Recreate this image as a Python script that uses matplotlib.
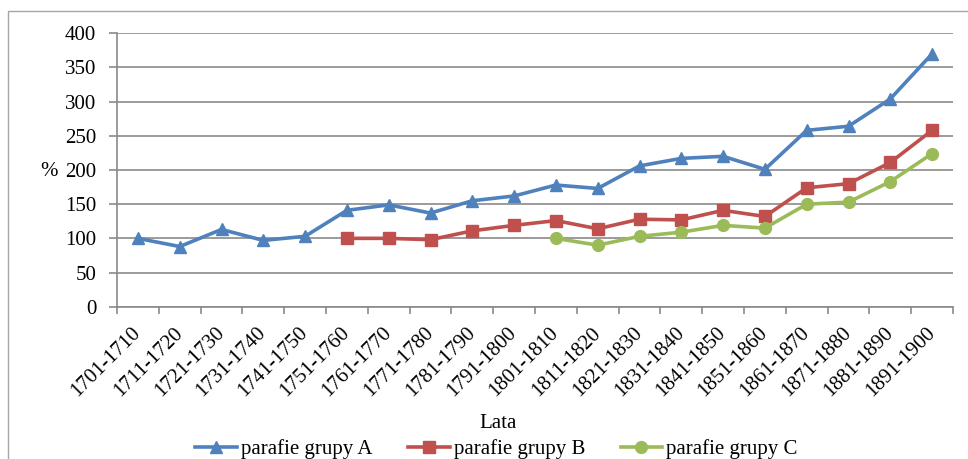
import matplotlib
matplotlib.use("Agg")
import matplotlib.pyplot as plt
import numpy as np
from matplotlib.patches import Rectangle

categories = ["1701-1710", "1711-1720", "1721-1730", "1731-1740", "1741-1750",
              "1751-1760", "1761-1770", "1771-1780", "1781-1790", "1791-1800",
              "1801-1810", "1811-1820", "1821-1830", "1831-1840", "1841-1850",
              "1851-1860", "1861-1870", "1871-1880", "1881-1890", "1891-1900"]
grupa_a = [100, 88, 113, 97, 103, 141, 149, 137, 155, 162,
           178, 173, 206, 217, 220, 201, 258, 264, 304, 370]
grupa_b = [None, None, None, None, None, 100, 100, 98, 111, 119,
           126, 114, 128, 127, 141, 132, 174, 180, 211, 258]
grupa_c = [None, None, None, None, None, None, None, None, None, None,
           100, 90, 103, 109, 119, 115, 150, 153, 183, 224]
series_names = ["parafie grupy A", "parafie grupy B", "parafie grupy C"]
y_ticks = [0, 50, 100, 150, 200, 250, 300, 350, 400]

plt.rcParams['font.family'] = ['Liberation Serif', 'DejaVu Serif']
FS = 15

W, H = 968, 459
fig = plt.figure(figsize=(W / 100, H / 100), dpi=100)
fig.patch.set_facecolor('white')

# outer chart frame (extends past right/bottom edges)
fig.patches.append(Rectangle((8 / W, -0.1), 1.2, 1 - 11 / H + 0.1,
                             transform=fig.transFigure, fill=False,
                             edgecolor='#a6a6a6', linewidth=1.0))

ax = fig.add_axes([117 / W, 1 - 306.7 / H, (953 - 117) / W, (306.7 - 33.3) / H])

x = np.arange(len(categories))

def arr(v):
    return np.array([np.nan if a is None else a for a in v], dtype=float)

colors = ['#4F81BD', '#C0504D', '#9BBB59']
markers = ['^', 's', 'o']
for vals, name, c, m in zip([grupa_a, grupa_b, grupa_c], series_names, colors, markers):
    ax.plot(x, arr(vals), color=c, linewidth=2.6, marker=m, markersize=8.5,
            markeredgecolor=c, markerfacecolor=c, label=name, zorder=3)

ax.set_xlim(-0.5, len(categories) - 0.5)
ax.set_ylim(0, 400)
ax.set_yticks(y_ticks)
ax.yaxis.grid(True, color='#8a8a8a', linewidth=1.2)
ax.set_axisbelow(True)

ax.set_xticks(np.arange(len(categories) + 1) - 0.5)
ax.set_xticklabels([])
ax.set_xticks(x, minor=True)
ax.set_xticklabels(categories, minor=True, rotation=45, ha='right', va='center',
                   rotation_mode='anchor', fontsize=FS)
ax.tick_params(axis='x', which='minor', length=0, pad=17)
ax.tick_params(axis='x', which='major', length=5, width=1.2, color='#8a8a8a', direction='out')
ax.tick_params(axis='y', length=6, width=1.2, color='#8a8a8a', direction='out',
               labelsize=FS, pad=9)

for s in ['top', 'right']:
    ax.spines[s].set_visible(False)
for s in ['left', 'bottom']:
    ax.spines[s].set_color('#8a8a8a')
    ax.spines[s].set_linewidth(1.2)

fig.text(49 / W, 1 - 172 / H, '%', ha='center', va='center', fontsize=FS)
fig.text(498 / W, 1 - 424 / H, 'Lata', ha='center', va='center', fontsize=FS)

handles, labels = ax.get_legend_handles_labels()
fig.legend(handles, labels, loc='center', bbox_to_anchor=(496.5 / W, 1 - 449 / H),
           ncol=3, frameon=False, fontsize=FS, handlelength=2.0, handletextpad=0.2,
           columnspacing=1.7, borderpad=0, borderaxespad=0)

fig.savefig('out.png', dpi=100, facecolor='white')
